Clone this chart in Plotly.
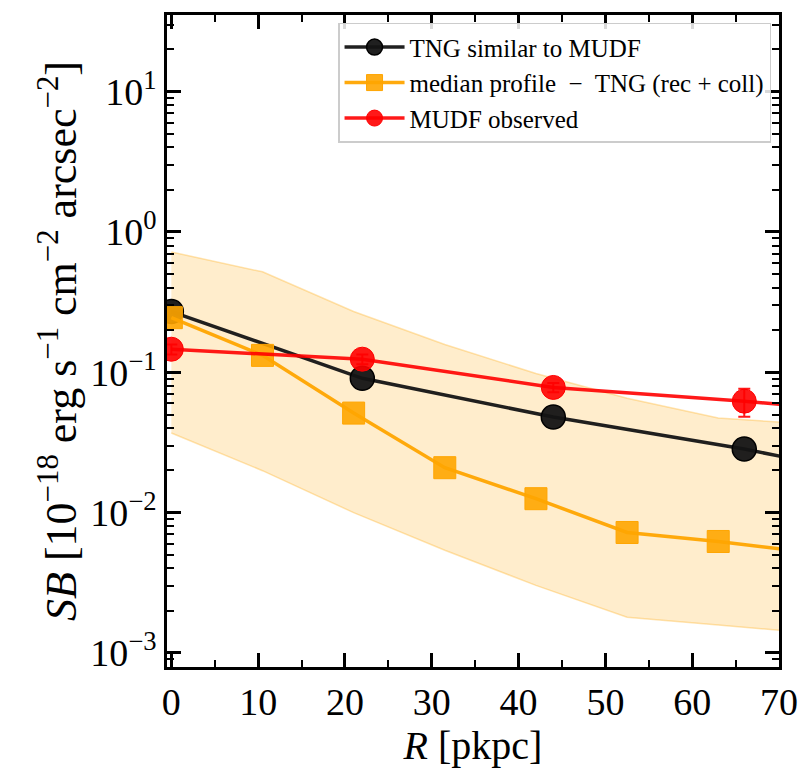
import plotly.graph_objects as go

# --- data ---
r_tng = [0, 22, 44, 66, 88]
sb_tng = [0.271, 0.0906, 0.048, 0.0284, 0.015]

r_med = [0, 10.5, 21, 31.5, 42, 52.5, 63, 73.5]
sb_med = [0.245, 0.132, 0.0512, 0.0209, 0.01257, 0.00722, 0.00623, 0.0052]
sb_med_hi = [0.72, 0.52, 0.271, 0.158, 0.098, 0.0654, 0.0472, 0.0428]
sb_med_lo = [0.0369, 0.0199, 0.0100, 0.0054, 0.00303, 0.0018, 0.00158, 0.00139]

r_obs = [0, 22, 44, 66, 88]
sb_obs = [0.146, 0.124, 0.078, 0.0623, 0.0472]
sb_obs_err = [0.012, 0.01, 0.006, 0.014, 0.01]

x_ticks = [0, 10, 20, 30, 40, 50, 60, 70]
x_minor = [5, 15, 25, 35, 45, 55, 65]
y_tickvals = [1e-3, 1e-2, 1e-1, 1e0, 1e1]
y_ticktext = ["10<sup>−3</sup>", "10<sup>−2</sup>", "10<sup>−1</sup>", "10<sup>0</sup>", "10<sup>1</sup>"]
y_minor = [m * 10.0 ** e for e in range(-4, 2) for m in range(2, 10)]

X_RANGE = [-0.5, 70]
Y_RANGE = [-3.1, 1.546]

FONT = "Liberation Serif"

fig = go.Figure()

# shaded band
fig.add_trace(go.Scatter(x=r_med, y=sb_med_hi, mode="lines",
                         line=dict(color="rgba(255,165,0,0.3)", width=1.5),
                         showlegend=False, hoverinfo="skip"))
fig.add_trace(go.Scatter(x=r_med, y=sb_med_lo, mode="lines", fill="tonexty",
                         fillcolor="rgba(255,165,0,0.2)",
                         line=dict(color="rgba(255,165,0,0.3)", width=1.5),
                         showlegend=False, hoverinfo="skip"))

fig.add_trace(go.Scatter(x=r_tng, y=sb_tng, mode="lines+markers",
                         name="TNG similar to MUDF",
                         line=dict(color="rgba(20,20,20,0.95)", width=3.5),
                         marker=dict(symbol="circle", size=24, color="rgba(20,20,20,0.95)",
                                     line=dict(color="black", width=1.5))))

fig.add_trace(go.Scatter(x=r_med, y=sb_med, mode="lines+markers",
                         name="median profile  −  TNG (rec + coll)",
                         line=dict(color="rgba(255,165,0,0.95)", width=3.5),
                         marker=dict(symbol="square", size=22, color="rgba(255,165,0,0.9)",
                                     line=dict(color="rgba(255,165,0,1)", width=1))))

fig.add_trace(go.Scatter(x=r_obs, y=sb_obs, mode="lines+markers",
                         name="MUDF observed",
                         line=dict(color="rgba(255,0,0,0.9)", width=3.5),
                         error_y=dict(type="data", array=sb_obs_err, color="rgba(255,0,0,0.9)",
                                      thickness=2, width=6),
                         marker=dict(symbol="circle", size=24, color="rgba(255,0,0,0.9)",
                                     line=dict(color="rgba(255,0,0,1)", width=1))))

# invisible trace carrying the minor-tick overlay axes
fig.add_trace(go.Scatter(x=[X_RANGE[0]], y=[1e-5], xaxis="x2", yaxis="y2", mode="markers",
                         marker=dict(opacity=0), showlegend=False, hoverinfo="skip"))

axis_common = dict(showline=True, linecolor="black", linewidth=2.5, mirror="allticks",
                   ticks="inside", ticklen=14, tickwidth=2.5, tickcolor="black",
                   showgrid=False, zeroline=False,
                   tickfont=dict(family=FONT, size=38, color="black"))

minor_common = dict(showline=False, mirror="allticks", ticks="inside", ticklen=7, tickwidth=2,
                    tickcolor="black", showgrid=False, zeroline=False, showticklabels=False,
                    fixedrange=True)

fig.update_layout(
    width=810, height=769,
    margin=dict(l=167, r=20, t=12, b=102),
    paper_bgcolor="white", plot_bgcolor="white",
    xaxis=dict(range=X_RANGE, tickvals=x_ticks, **axis_common,
               title=dict(text="<i>R</i> [pkpc]", font=dict(family=FONT, size=40, color="black"),
                          standoff=4)),
    yaxis=dict(type="log", range=Y_RANGE, tickvals=y_tickvals, ticktext=y_ticktext,
               **axis_common,
               title=dict(text="<i>SB</i> [10<sup>−18</sup> erg s<sup>−1</sup> cm<sup>−2</sup> arcsec<sup>−2</sup>]",
                          font=dict(family=FONT, size=44, color="black"), standoff=0)),
    xaxis2=dict(overlaying="x", anchor="y2", range=X_RANGE, tickvals=x_minor, **minor_common),
    yaxis2=dict(overlaying="y", anchor="x2", type="log", range=Y_RANGE, tickvals=y_minor,
                **minor_common),
    legend=dict(x=0.987, y=0.988, xanchor="right", yanchor="top",
                traceorder="normal",
                bgcolor="rgba(255,255,255,0.85)", bordercolor="#cccccc", borderwidth=1.5,
                font=dict(family=FONT, size=25, color="black"),
                itemwidth=60, tracegroupgap=0),
    showlegend=True)

fig.write_html("out.html")
